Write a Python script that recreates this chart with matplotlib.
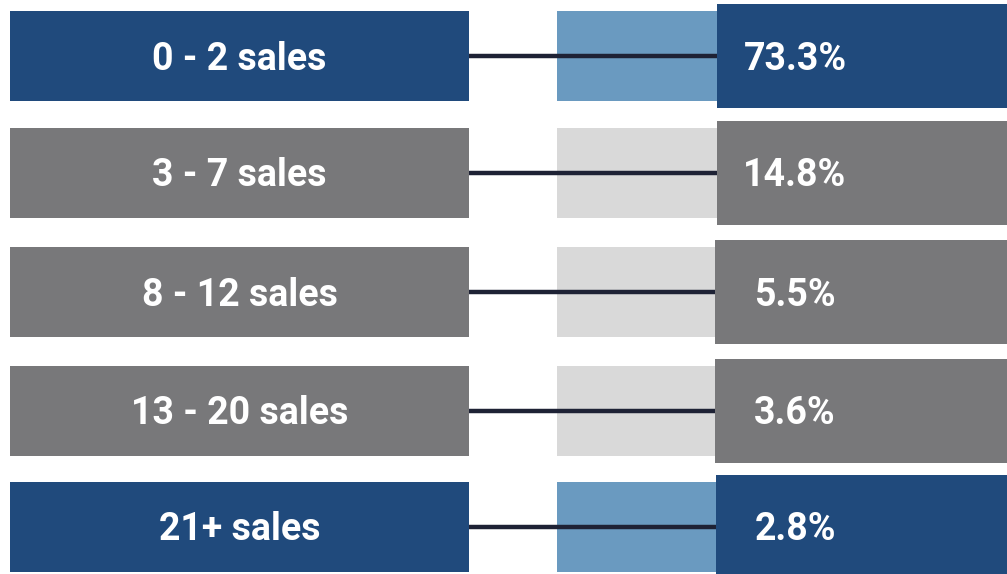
import matplotlib.pyplot as plt
from matplotlib.patches import Rectangle

# Data
categories = ["0 - 2 sales", "3 - 7 sales", "8 - 12 sales", "13 - 20 sales", "21+ sales"]
shares = [73.3, 14.8, 5.5, 3.6, 2.8]
highlighted = [True, False, False, False, True]

# Colours
navy = "#204a7c"
light_blue = "#6a9ac0"
grey = "#78787a"
light_grey = "#d9d9d9"
line_col = "#1e2235"

plt.rcParams["font.family"] = ["Roboto", "DejaVu Sans"]

fig = plt.figure(figsize=(10.07, 5.74), dpi=100)
ax = fig.add_axes([0, 0, 1, 1])
ax.set_xlim(0, 1007)
ax.set_ylim(574, 0)
ax.axis("off")

row_top = [11, 128, 247, 366, 482]
box_h = 90
left_x0, left_x1 = 10, 469
mid_x0 = 557
right_x0 = [717, 717, 715, 715, 716]

for i, (cat, val) in enumerate(zip(categories, shares)):
    top = row_top[i]
    cy = top + box_h / 2
    dark = navy if highlighted[i] else grey
    pale = light_blue if highlighted[i] else light_grey
    rx = right_x0[i]

    # left label box
    ax.add_patch(Rectangle((left_x0, top), left_x1 - left_x0, box_h, color=dark, lw=0))
    # pale middle box
    ax.add_patch(Rectangle((mid_x0, top), rx - mid_x0, box_h, color=pale, lw=0))
    # connector line
    ax.plot([left_x1, rx], [cy, cy], color=line_col, lw=3.2, solid_capstyle="butt", zorder=3)
    # right value box (taller)
    ax.add_patch(Rectangle((rx, top - 7), 1007 - rx, box_h + 14, color=dark, lw=0, zorder=4))

    ax.text((left_x0 + left_x1) / 2, cy + 13.5, cat, color="white", fontsize=27,
            fontweight="bold", ha="center", va="baseline", zorder=5)
    ax.text(795, cy + 13.5, f"{val}%", color="white", fontsize=27,
            fontweight="bold", ha="center", va="baseline", zorder=5)

fig.savefig("out.png", dpi=100)
